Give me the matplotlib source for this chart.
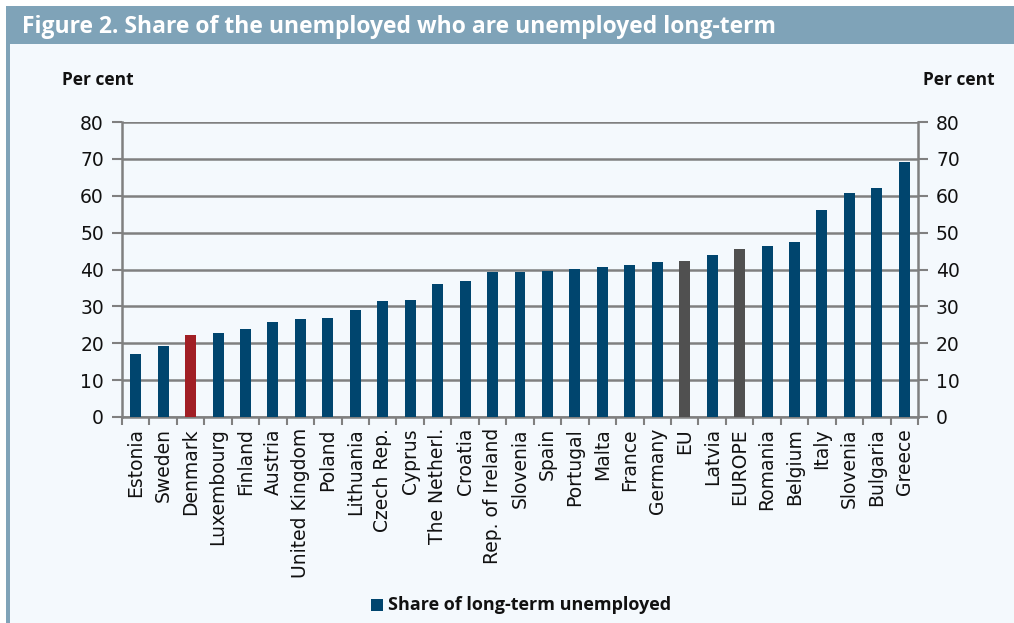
import matplotlib
matplotlib.use("Agg")
import matplotlib.pyplot as plt
from matplotlib.patches import Rectangle
import numpy as np

categories = ["Estonia", "Sweden", "Denmark", "Luxembourg", "Finland", "Austria",
              "United Kingdom", "Poland", "Lithuania", "Czech Rep.", "Cyprus",
              "The Netherl.", "Croatia", "Rep. of Ireland", "Slovenia", "Spain",
              "Portugal", "Malta", "France", "Germany", "EU", "Latvia", "EUROPE",
              "Romania", "Belgium", "Italy", "Slovenia", "Bulgaria", "Greece"]
values = [17.0, 19.3, 22.2, 22.8, 23.9, 25.8, 26.5, 26.8, 28.9, 31.4, 31.8,
          36.1, 37.0, 39.2, 39.2, 39.5, 40.1, 40.6, 41.2, 41.9, 42.3, 44.0,
          45.6, 46.5, 47.4, 56.1, 60.7, 62.0, 69.1]
highlight_red = ["Denmark"]
highlight_grey = ["EU", "EUROPE"]
yticks = [0, 10, 20, 30, 40, 50, 60, 70, 80]

BLUE = "#00456e"
RED = "#a11f25"
GREY = "#505050"
BG = "#f4f9fd"
HEAD = "#7fa3b8"
GRID = "#808080"

fig = plt.figure(figsize=(10.14, 6.23), dpi=100)
fig.patch.set_facecolor(BG)

# white strip above header, header band and left border
fig.add_artist(Rectangle((0, 1-6/623), 1, 6/623, transform=fig.transFigure,
                         facecolor="white", edgecolor="none", zorder=0))
fig.add_artist(Rectangle((0, 0), 6/1014, 1, transform=fig.transFigure,
                         facecolor="white", edgecolor="none", zorder=0))
fig.add_artist(Rectangle((6/1014, 1-44/623), 1-6/1014, 38/623, transform=fig.transFigure,
                         facecolor=HEAD, edgecolor="none", zorder=0))
fig.add_artist(Rectangle((6/1014, 0), 4/1014, 1-44/623, transform=fig.transFigure,
                         facecolor=HEAD, edgecolor="none", zorder=0))
fig.text(22/1014, 1-27/623, "Figure 2. Share of the unemployed who are unemployed long-term",
         color="white", fontsize=16.5, fontweight="bold", family="Open Sans",
         va="center", ha="left")

ax = fig.add_axes([122/1014, 1-417/623, (918-122)/1014, (417-122)/623])
ax.set_facecolor(BG)

x = np.arange(len(categories))
colors = [RED if c in highlight_red else GREY if c in highlight_grey else BLUE for c in categories]
ax.bar(x, values, width=0.4, color=colors, zorder=3)

ax.set_xlim(-0.5, len(categories) - 0.5)
ax.set_ylim(0, 80)
ax.set_yticks(yticks)
ax.yaxis.grid(True, color=GRID, linewidth=1.8, zorder=1)
ax.set_axisbelow(True)

ax.set_xticks(x)
ax.set_xticklabels(categories, rotation=90, fontsize=13.5, family="DejaVu Sans", color="#111111")
ax.tick_params(axis="x", length=0, pad=8)
ax.set_xticks(np.arange(-0.5, len(categories), 1), minor=True)
ax.tick_params(axis="x", which="minor", length=6, width=1.5, color=GRID, direction="out")

ax.tick_params(axis="y", length=7, width=1.5, color=GRID, labelsize=13.5, pad=6,
               labelcolor="#111111", left=True, right=True, labelleft=True, labelright=True)

for side in ["left", "right", "bottom"]:
    ax.spines[side].set_color(GRID)
    ax.spines[side].set_linewidth(1.8)
ax.spines["top"].set_visible(False)

fig.text(62/1014, 1-80/623, "Per cent", fontsize=12.5, fontweight="bold",
         family="Open Sans", ha="left", va="center", color="#111111")
fig.text(995/1014, 1-80/623, "Per cent", fontsize=12.5, fontweight="bold",
         family="Open Sans", ha="right", va="center", color="#111111")

# legend
fig.add_artist(Rectangle((371/1014, 1-611/623), 12/1014, 12/623, transform=fig.transFigure,
                         facecolor=BLUE, edgecolor="none"))
fig.text(388/1014, 1-605/623, "Share of long-term unemployed", fontsize=13, fontweight="bold",
         family="Open Sans", ha="left", va="center", color="#111111")

fig.savefig("out.png", dpi=100, facecolor=BG)
